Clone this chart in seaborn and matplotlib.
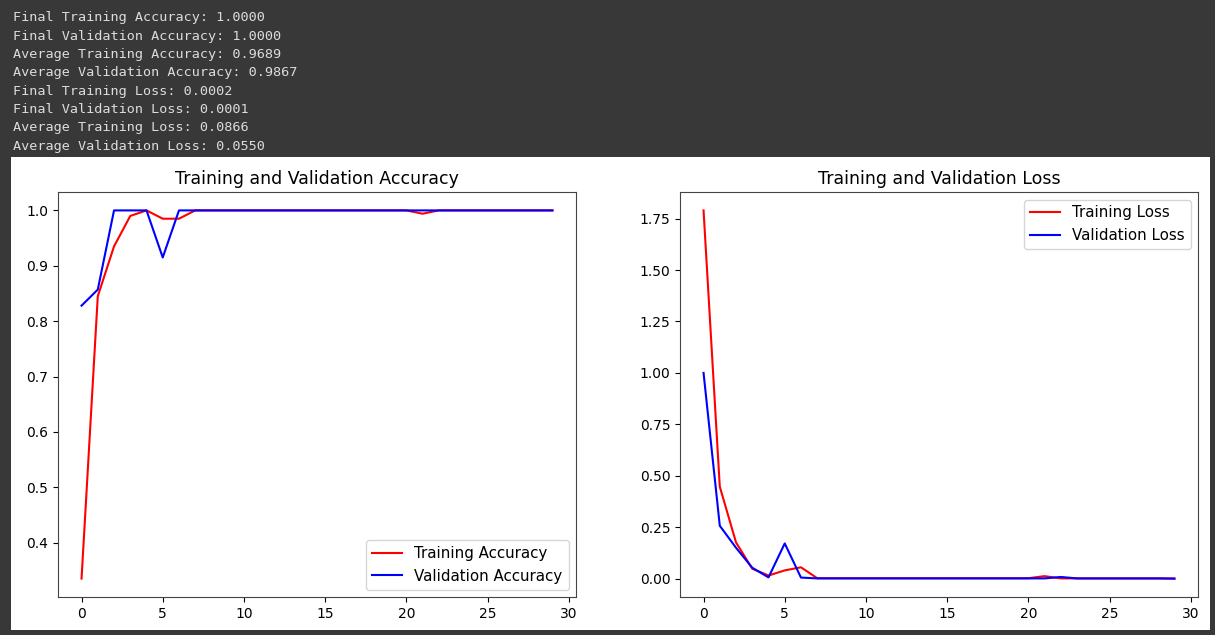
"""Training/validation curves, notebook-style screenshot."""

import numpy as np
import matplotlib
matplotlib.use("Agg")
import matplotlib.pyplot as plt
from matplotlib.patches import Rectangle
import seaborn as sns

epochs = list(range(30))

train_acc = [0.335, 0.845, 0.935, 0.99, 1.0, 0.985, 0.985] + [1.0] * 14 + [0.994] + [1.0] * 8
val_acc = [0.828, 0.857, 1.0, 1.0, 1.0, 0.915] + [1.0] * 24

train_loss = ([1.79, 0.447, 0.176, 0.048, 0.015, 0.04, 0.055]
              + [0.002] * 14 + [0.012] + [0.001] * 7 + [0.0002])
val_loss = ([1.0, 0.257, 0.15, 0.053, 0.006, 0.171, 0.005]
            + [0.001] * 15 + [0.008] + [0.001] * 6 + [0.0001])

summary_lines = [
    "Final Training Accuracy: 1.0000",
    "Final Validation Accuracy: 1.0000",
    "Average Training Accuracy: 0.9689",
    "Average Validation Accuracy: 0.9867",
    "Final Training Loss: 0.0002",
    "Final Validation Loss: 0.0001",
    "Average Training Loss: 0.0866",
    "Average Validation Loss: 0.0550",
]

W, H = 1215, 635
fig = plt.figure(figsize=(W / 100, H / 100), dpi=100, facecolor="#383838")

# white output panel behind the axes
fig.patches.append(Rectangle((11 / W, 5 / H), 1199 / W, 473 / H,
                             transform=fig.transFigure, facecolor="white",
                             edgecolor="none", zorder=-10))

for i, line in enumerate(summary_lines):
    fig.text(13 / W, 1 - (18 + 18.3 * i) / H, line, color="#dcdcdc",
             family="DejaVu Sans Mono", fontsize=9.7, va="center")

ax1 = fig.add_axes([58 / W, 38 / H, 518 / W, 405 / H])
ax2 = fig.add_axes([680 / W, 38 / H, 518 / W, 405 / H])

sns.lineplot(x=epochs, y=train_acc, ax=ax1, color="red", label="Training Accuracy")
sns.lineplot(x=epochs, y=val_acc, ax=ax1, color="blue", label="Validation Accuracy")
ax1.set_title("Training and Validation Accuracy", fontsize=12.5)
ax1.legend(loc="lower right", fontsize=10.8)

sns.lineplot(x=epochs, y=train_loss, ax=ax2, color="red", label="Training Loss")
sns.lineplot(x=epochs, y=val_loss, ax=ax2, color="blue", label="Validation Loss")
ax2.set_title("Training and Validation Loss", fontsize=12.5)
ax2.legend(loc="upper right", fontsize=10.8)
ax2.set_yticks(np.arange(0, 1.76, 0.25))

for ax in (ax1, ax2):
    ax.set_xticks(range(0, 31, 5))
    ax.tick_params(labelsize=10)
    for s in ax.spines.values():
        s.set_color("#444444")

fig.savefig("out.png", dpi=100, facecolor=fig.get_facecolor())
